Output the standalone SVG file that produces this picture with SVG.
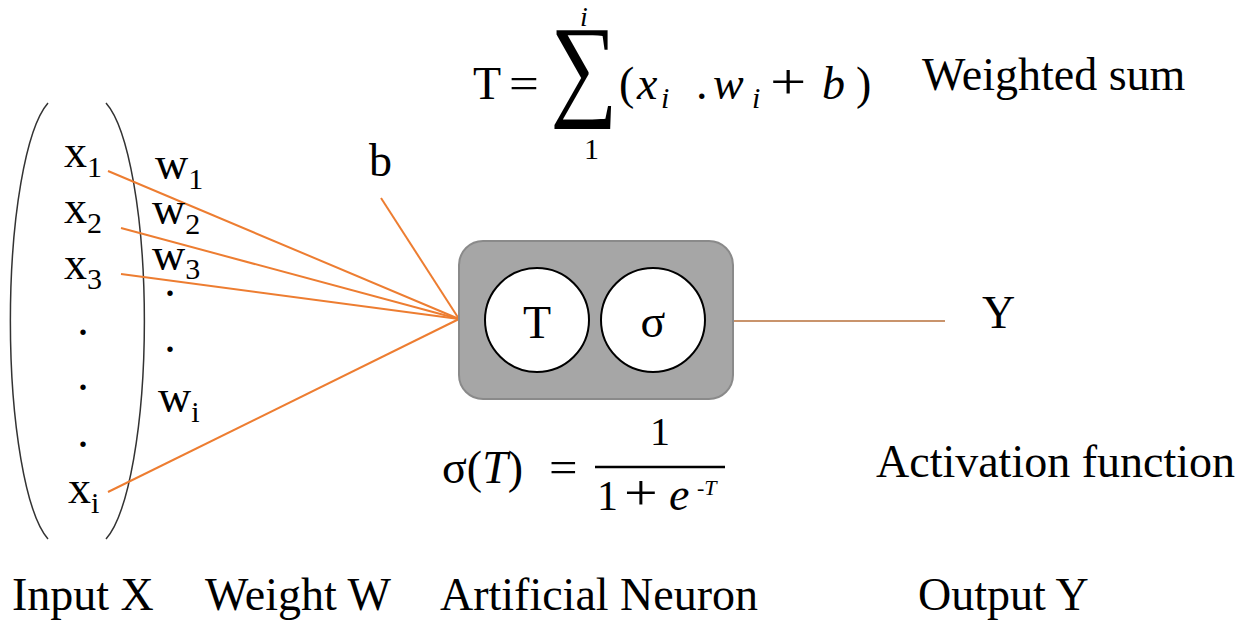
<svg xmlns="http://www.w3.org/2000/svg" width="1249" height="625" viewBox="0 0 1249 625">
<style>
text{font-family:"Liberation Serif","Times New Roman",serif;fill:#000;}
.lbl{font-size:46px;}
.sub{font-size:30px;}
.m{font-size:46px;}
.mi{font-style:italic;}
.conn{stroke:#ED7D31;stroke-width:2;fill:none;}
.out{stroke:#C9946C;stroke-width:2;fill:none;}
.paren{stroke:#333;stroke-width:1.5;fill:none;}
.circ{fill:#fff;stroke:#000;stroke-width:2;}
</style>
<rect width="1249" height="625" fill="#fff"/>

<g id="input-bracket">
<path class="paren" d="M48,103 A50,225 0 0 0 48,539"/>
<path class="paren" d="M106,103 A51,225 0 0 1 106,539"/>
</g>

<g id="connectors">
<line class="conn" x1="108" y1="171" x2="459" y2="319"/>
<line class="conn" x1="121" y1="228" x2="459" y2="319"/>
<line class="conn" x1="121" y1="274" x2="459" y2="319"/>
<line class="conn" x1="108" y1="492" x2="459" y2="319"/>
<line class="conn" x1="381" y1="198" x2="459" y2="319"/>
<line class="out" x1="733" y1="321" x2="945" y2="321"/>
</g>

<g id="inputs">
<text class="lbl" x="64" y="167">x<tspan class="sub" dy="10">1</tspan></text>
<text class="lbl" x="64" y="223">x<tspan class="sub" dy="10">2</tspan></text>
<text class="lbl" x="64" y="279">x<tspan class="sub" dy="10">3</tspan></text>
<text class="lbl" x="83" y="335" text-anchor="middle">.</text>
<text class="lbl" x="83" y="390" text-anchor="middle">.</text>
<text class="lbl" x="83" y="447" text-anchor="middle">.</text>
<text class="lbl" x="68" y="503">x<tspan class="sub" dy="10">i</tspan></text>
</g>

<g id="weights">
<text class="lbl" x="155" y="179">w<tspan class="sub" dy="10">1</tspan></text>
<text class="lbl" x="152" y="224">w<tspan class="sub" dy="10">2</tspan></text>
<text class="lbl" x="152" y="270">w<tspan class="sub" dy="9">3</tspan></text>
<text class="lbl" x="170" y="296" text-anchor="middle">.</text>
<text class="lbl" x="170" y="352" text-anchor="middle">.</text>
<text class="lbl" x="158" y="412">w<tspan class="sub" dy="10">i</tspan></text>
</g>

<g id="bias">
<text class="lbl" x="369" y="176">b</text>
</g>

<g id="neuron">
<rect x="459" y="241" width="274" height="158" rx="24" ry="24" fill="#A6A6A6" stroke="#8A8A8A" stroke-width="2"/>
<circle class="circ" cx="537" cy="320" r="52"/>
<circle class="circ" cx="653" cy="320" r="52"/>
<text class="lbl" x="537" y="338" text-anchor="middle">T</text>
<text class="lbl" x="653" y="337" text-anchor="middle">σ</text>
</g>

<g id="output">
<text class="lbl" x="982" y="328">Y</text>
</g>

<g id="weighted-sum-formula">
<text class="m" x="473" y="99">T</text>
<text class="m" x="509" y="99" transform="translate(509,99) scale(1.15,1) translate(-509,-99)">=</text>
<text x="584" y="105" text-anchor="middle" style="font-size:114px" transform="translate(584,105) scale(0.83,1) translate(-584,-105)">∑</text>
<text class="mi" x="580" y="26" style="font-size:28px">i</text>
<text class="sub" x="584" y="159">1</text>
<text class="m" x="619" y="99">(</text>
<text class="m mi" x="637" y="99">x</text>
<text class="sub mi" x="661" y="108">i</text>
<text class="m" x="696" y="99">.</text>
<text class="m mi" x="713" y="99">w</text>
<text class="sub mi" x="752" y="108">i</text>
<text class="m" x="770" y="99" transform="translate(770,99) scale(1.4,1.1) translate(-770,-99)">+</text>
<text class="m mi" x="822" y="99">b</text>
<text class="m" x="856" y="99">)</text>
</g>

<g id="weighted-sum-label">
<text class="lbl" x="922" y="90">Weighted sum</text>
</g>

<g id="activation-formula">
<text class="m" x="442" y="483">σ(<tspan class="mi">T</tspan>)</text>
<text class="m" x="549" y="483" transform="translate(549,483) scale(1.1,1) translate(-549,-483)">=</text>
<line x1="595" y1="467" x2="725" y2="467" stroke="#000" stroke-width="2.5"/>
<text class="m" x="660" y="445" text-anchor="middle" style="font-size:40px">1</text>
<text class="m" x="597" y="510" style="font-size:42px">1</text>
<text class="m" x="624" y="510" transform="translate(624,510) scale(1.3,1.1) translate(-624,-510)">+</text>
<text class="m mi" x="669" y="510">e</text>
<text class="mi" x="697" y="495" style="font-size:22px">-T</text>
</g>

<g id="activation-label">
<text class="lbl" x="876" y="477">Activation function</text>
</g>

<g id="bottom-labels">
<text class="lbl" x="12" y="610">Input X</text>
<text class="lbl" x="205" y="610">Weight W</text>
<text class="lbl" x="440" y="610">Artificial Neuron</text>
<text class="lbl" x="918" y="610">Output Y</text>
</g>
</svg>
